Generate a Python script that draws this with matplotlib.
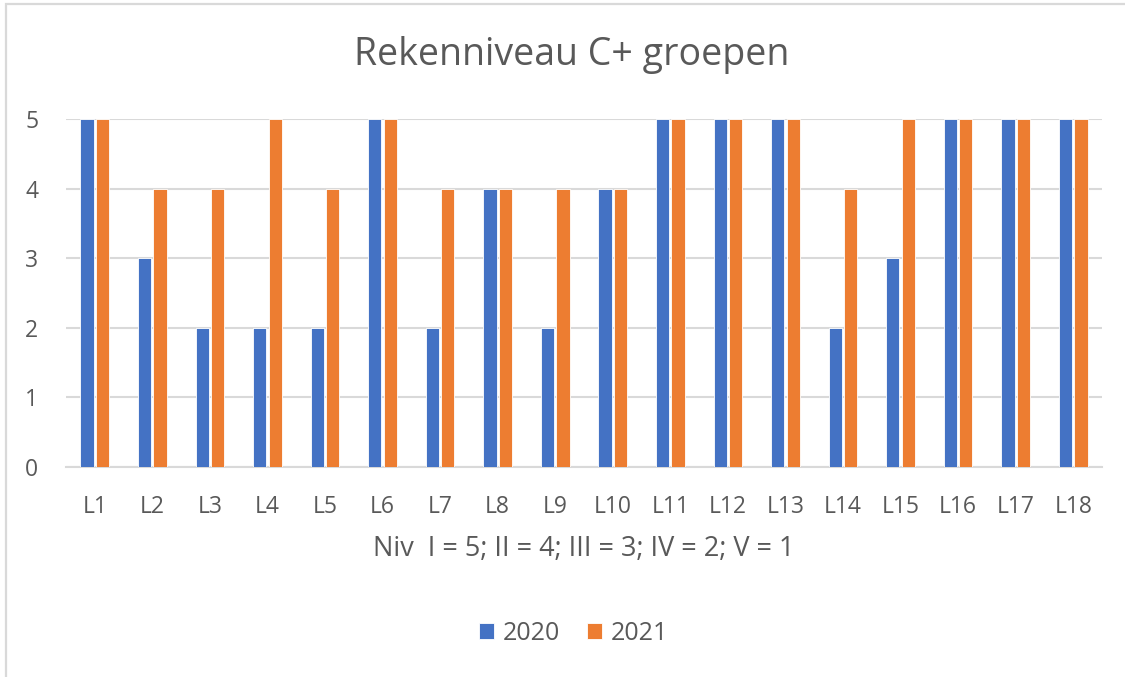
import numpy as np
import matplotlib.pyplot as plt
from matplotlib.patches import Rectangle

categories = ['L%d' % i for i in range(1, 19)]
vals_2020 = [5, 3, 2, 2, 2, 5, 2, 4, 2, 4, 5, 5, 5, 2, 3, 5, 5, 5]
vals_2021 = [5, 4, 4, 5, 4, 5, 4, 4, 4, 4, 5, 5, 5, 4, 5, 5, 5, 5]

plt.rcParams['font.family'] = ['Open Sans', 'DejaVu Sans']
txt = '#595959'
grid = '#d9d9d9'

fig = plt.figure(figsize=(11.25, 6.77), dpi=100)
ax = fig.add_axes([66/1125, 1-467/677, (1102-66)/1125, (467-119)/677])

x = np.arange(len(categories))
w = 0.23
ax.bar(x - 0.135, vals_2020, w, color='#4472c4', edgecolor='white', linewidth=0.6, label='2020', zorder=3)
ax.bar(x + 0.135, vals_2021, w, color='#ed7d31', edgecolor='white', linewidth=0.6, label='2021', zorder=3)

ax.set_xlim(-0.5, len(categories) - 0.5)
ax.set_ylim(0, 5)
ax.set_yticks(range(6))
ax.set_xticks(x)
ax.set_xticklabels(categories)
ax.yaxis.grid(True, color=grid, linewidth=1.5, zorder=0)
ax.set_axisbelow(True)
for s in ['top', 'right', 'left']:
    ax.spines[s].set_visible(False)
ax.spines['bottom'].set_color(grid)
ax.spines['bottom'].set_linewidth(1.5)
ax.tick_params(axis='both', length=0, labelsize=16.5, colors=txt)
ax.tick_params(axis='y', pad=20)
ax.tick_params(axis='x', pad=20)

ax.set_xlabel('Niv  I = 5; II = 4; III = 3; IV = 2; V = 1', fontsize=19.5, color=txt, labelpad=12)
fig.text(0.508, 1-55/677, 'Rekenniveau C+ groepen', ha='center', va='center', fontsize=27, color=txt)

ax.legend(loc='center', bbox_to_anchor=(0.49, -0.478), ncol=2, frameon=False,
          fontsize=18, labelcolor=txt, handlelength=0.6, handleheight=0.6,
          handletextpad=0.35, columnspacing=1.1)

# chart area border (partly outside the picture)
fig.add_artist(Rectangle((6/1125, -0.1), 1.2, 1 - 4/677 + 0.1, transform=fig.transFigure,
                         fill=False, edgecolor=grid, linewidth=1.6))

fig.savefig('out.png', dpi=100, facecolor='white')
